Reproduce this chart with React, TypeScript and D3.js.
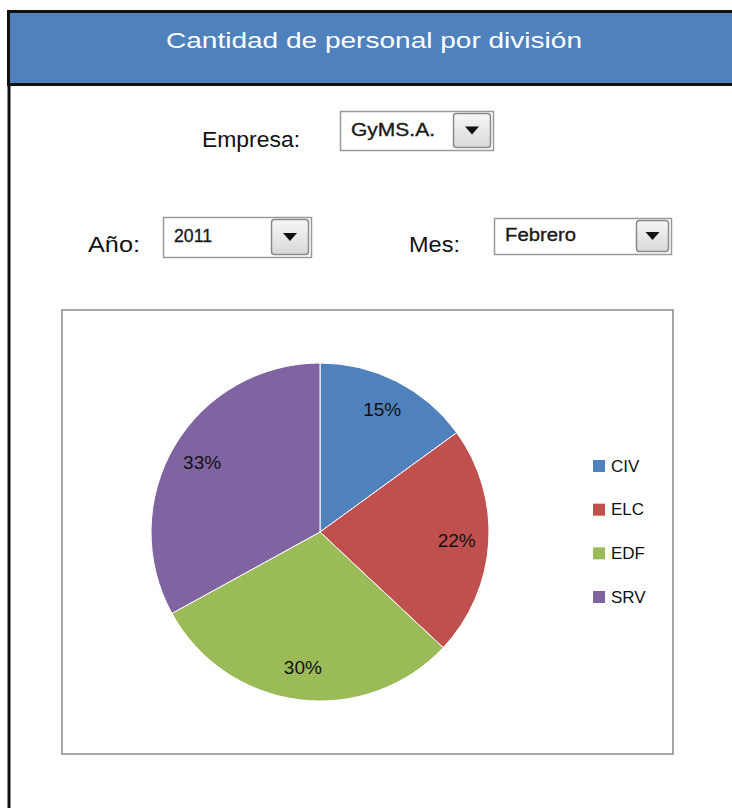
import React from "react";
import * as d3 from "d3";

const categories = ["CIV", "ELC", "EDF", "SRV"];
const values = [15, 22, 30, 33];
const colors = ["#4F81BD", "#C0504D", "#9BBB59", "#8064A2"];
const title = "Cantidad de personal por división";
const empresa = "GyMS.A.";
const anio = "2011";
const mes = "Febrero";

const FONT = "'Liberation Sans', Arial, sans-serif";

function Dropdown({ x, y, w, h, bw, text, tl }: { x: number; y: number; w: number; h: number; bw: number; text: string; tl: number }) {
  const bx = x + w - bw - 2;
  const by = y + 2;
  const bh = h - 4;
  const cx = bx + bw / 2;
  const cy = by + bh / 2;
  return (
    <g>
      <rect x={x + 0.5} y={y + 0.5} width={w} height={h} fill="#fff" stroke="#9a9a9a" strokeWidth={1.5} />
      <text x={x + 11} y={y + h / 2 - 1} dominantBaseline="central" fontFamily={FONT} fontSize={18} fill="#1a1a1a" stroke="#1a1a1a" strokeWidth={0.35} textLength={tl} lengthAdjust="spacingAndGlyphs">
        {text}
      </text>
      <rect x={bx + 0.5} y={by + 0.5} width={bw - 1} height={bh - 1} rx={3} fill="url(#btnGrad)" stroke="#8a8a8a" strokeWidth={1.5} />
      <path d={`M${cx - 7},${cy - 4} L${cx + 7},${cy - 4} L${cx},${cy + 4} Z`} fill="#111" />
    </g>
  );
}

export default function App() {
  const cx = 320;
  const cy = 532;
  const r = 169;
  const pie = d3.pie<number>().sort(null).value((d) => d);
  const arcs = pie(values);
  const arcGen = d3.arc<d3.PieArcDatum<number>>().innerRadius(0).outerRadius(r);
  const labelArc = d3.arc<d3.PieArcDatum<number>>().innerRadius(137).outerRadius(137);
  const total = d3.sum(values);
  const legendY = d3.scalePoint<string>().domain(categories).range([466, 597]);

  return (
    <svg width={732} height={808} style={{ position: "absolute", left: 0, top: 0, background: "#fff" }}>
      <defs>
        <linearGradient id="btnGrad" x1="0" y1="0" x2="0" y2="1">
          <stop offset="0" stopColor="#f7f7f7" />
          <stop offset="1" stopColor="#d8d8d8" />
        </linearGradient>
      </defs>
      <rect x={0} y={0} width={732} height={808} fill="#fff" />
      <rect x={8.5} y={11.5} width={740} height={73} fill="#4F81BD" stroke="#111" strokeWidth={3} />
      <line x1={9} y1={84} x2={9} y2={808} stroke="#111" strokeWidth={3} />
      <text x={374} y={40} textAnchor="middle" dominantBaseline="central" fontFamily={FONT} fontSize={22} fill="#fff" textLength={416} lengthAdjust="spacingAndGlyphs">
        {title}
      </text>

      <text x={202} y={139} dominantBaseline="central" fontFamily={FONT} fontSize={22} fill="#111" textLength={98} lengthAdjust="spacingAndGlyphs">Empresa:</text>
      <Dropdown x={340} y={111} w={153} h={39} bw={38} text={empresa} tl={84} />
      <text x={88} y={244} dominantBaseline="central" fontFamily={FONT} fontSize={22} fill="#111" textLength={52} lengthAdjust="spacingAndGlyphs">Año:</text>
      <Dropdown x={163} y={217} w={148} h={40} bw={38} text={anio} tl={38} />
      <text x={409} y={244} dominantBaseline="central" fontFamily={FONT} fontSize={22} fill="#111" textLength={51} lengthAdjust="spacingAndGlyphs">Mes:</text>
      <Dropdown x={494} y={218} w={177} h={36} bw={33} text={mes} tl={71} />

      <rect x={62} y={310} width={611} height={444} fill="#fff" stroke="#a6a6a6" strokeWidth={2} />

      <g transform={`translate(${cx},${cy})`}>
        {arcs.map((a, i) => (
          <path key={categories[i]} d={arcGen(a) || ""} fill={colors[i]} stroke="#fff" strokeWidth={1} />
        ))}
        {arcs.map((a, i) => {
          const [lx, ly] = labelArc.centroid(a);
          return (
            <text key={"l" + i} x={lx} y={ly} textAnchor="middle" dominantBaseline="central" fontFamily={FONT} fontSize={19} fill="#111">
              {Math.round((a.value / total) * 100)}%
            </text>
          );
        })}
      </g>

      {categories.map((c, i) => (
        <g key={c}>
          <rect x={593} y={(legendY(c) as number) - 6} width={12} height={12} fill={colors[i]} />
          <text x={611} y={legendY(c) as number} dominantBaseline="central" fontFamily={FONT} fontSize={17} fill="#111">
            {c}
          </text>
        </g>
      ))}
    </svg>
  );
}
